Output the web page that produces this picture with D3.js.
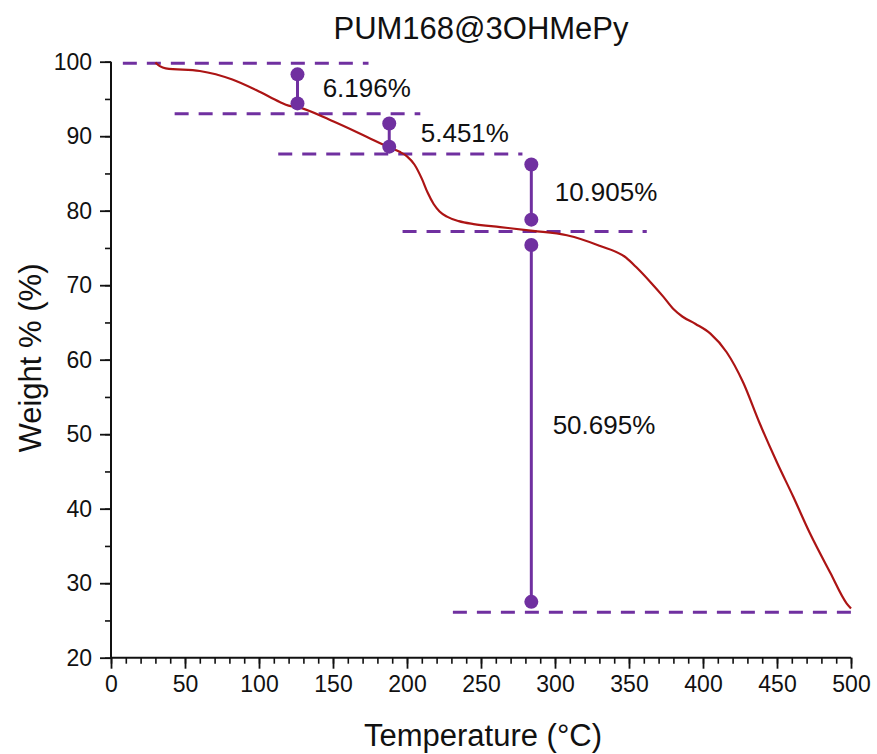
<!DOCTYPE html>
<html><head><meta charset="utf-8">
<script src="https://cdn.jsdelivr.net/npm/d3@7"></script>
<style>body{margin:0;background:#fff}svg{display:block}text{font-family:"Liberation Sans",Arial,sans-serif;fill:#111}</style>
</head><body><svg id="c" width="877" height="754"></svg>
<script>
// TGA curve (temperature °C, weight %)
const temps   = [30, 33, 37, 60, 82, 100, 114, 120, 126, 150, 173, 188, 195, 200, 205, 210, 214, 218, 222, 227, 235, 245, 263, 285, 308, 330, 348, 355, 365, 373, 380, 386, 395, 405, 416, 427, 438, 450, 461, 472, 486, 497, 500];
const weights = [99.9, 99.4, 99.1, 98.75, 97.6, 96.0, 94.6, 94.1, 93.9, 92.0, 89.9, 88.5, 87.9, 87.3, 86.2, 84.3, 82.4, 80.9, 79.9, 79.2, 78.6, 78.2, 77.8, 77.3, 76.7, 75.3, 73.7, 72.4, 70.3, 68.5, 66.8, 65.8, 64.8, 63.5, 61.0, 57.0, 51.6, 46.2, 41.6, 36.8, 31.4, 27.3, 26.6];
// dashed reference levels
const refLevel = [99.8, 93.0, 87.6, 77.2, 26.1];
const refFrom  = [8, 43, 113, 197, 231];
const refTo    = [174, 209, 278, 362, 500];
// dumbbell markers of weight loss steps
const stepT      = [126, 188, 284, 284];
const stepTop    = [98.3, 91.7, 86.2, 75.4];
const stepBottom = [94.4, 88.6, 78.8, 27.5];
const stepLabel  = ["6.196%", "5.451%", "10.905%", "50.695%"];
const labelT     = [143, 209.3, 299.8, 298.4];
const labelW     = [96.5, 90.5, 82.55, 51.3];
// ticks
const xTicks = [0, 50, 100, 150, 200, 250, 300, 350, 400, 450, 500];
const yTicks = [20, 30, 40, 50, 60, 70, 80, 90, 100];

const svg = d3.select("#c");
const x = d3.scaleLinear().domain([0, 500]).range([111, 851]);
const y = d3.scaleLinear().domain([20, 100]).range([657.7, 61.7]);
const purple = "#7030a0", red = "#ac1414";

// axes
const xMinor = d3.range(0, 501, 10);
const yMinor = d3.range(20, 101, 5);
const gx = svg.append("g").attr("transform", "translate(0,657.7)");
gx.call(d3.axisBottom(x).tickValues(xMinor).tickSize(6).tickFormat(""));
gx.selectAll(".tick line").attr("stroke-width", 1.6).attr("stroke", "#111");
gx.select(".domain").remove();
const gx2 = svg.append("g").attr("transform", "translate(0,657.7)");
gx2.call(d3.axisBottom(x).tickValues(xTicks).tickSize(11).tickPadding(7).tickFormat(d3.format("d")));
gx2.selectAll(".tick line").attr("stroke-width", 1.8).attr("stroke", "#111");
gx2.selectAll(".tick text").attr("font-size", 23).attr("fill", "#111");
gx2.select(".domain").attr("stroke", "#111").attr("stroke-width", 2).attr("d", `M${x(0)},0H${x(500)}`);

const gy = svg.append("g").attr("transform", "translate(111,0)");
gy.call(d3.axisLeft(y).tickValues(yMinor).tickSize(6).tickFormat(""));
gy.selectAll(".tick line").attr("stroke-width", 1.6).attr("stroke", "#111");
gy.select(".domain").remove();
const gy2 = svg.append("g").attr("transform", "translate(111,0)");
gy2.call(d3.axisLeft(y).tickValues(yTicks).tickSize(11).tickPadding(8).tickFormat(d3.format("d")));
gy2.selectAll(".tick line").attr("stroke-width", 1.8).attr("stroke", "#111");
gy2.selectAll(".tick text").attr("font-size", 23).attr("fill", "#111");
gy2.select(".domain").attr("stroke", "#111").attr("stroke-width", 2).attr("d", `M0,${y(20)}V${y(100)}`);

// dashed reference lines
svg.append("g").selectAll("line").data(refLevel).join("line")
  .attr("x1", (d, i) => x(refFrom[i])).attr("x2", (d, i) => x(refTo[i]))
  .attr("y1", d => y(d)).attr("y2", d => y(d))
  .attr("stroke", purple).attr("stroke-width", 3).attr("stroke-dasharray", "14,10");

// curve
const pts = temps.map((t, i) => [t, weights[i]]);
svg.append("path").datum(pts)
  .attr("d", d3.line().x(d => x(d[0])).y(d => y(d[1])).curve(d3.curveMonotoneX))
  .attr("fill", "none").attr("stroke", red).attr("stroke-width", 2.2);

// dumbbells
const gd = svg.append("g");
stepT.forEach((t, i) => {
  gd.append("line").attr("x1", x(t)).attr("x2", x(t)).attr("y1", y(stepTop[i])).attr("y2", y(stepBottom[i]))
    .attr("stroke", purple).attr("stroke-width", 3);
  [stepTop[i], stepBottom[i]].forEach(w => gd.append("circle").attr("cx", x(t)).attr("cy", y(w)).attr("r", 7).attr("fill", purple));
});
svg.append("g").selectAll("text").data(stepLabel).join("text")
  .attr("x", (d, i) => x(labelT[i])).attr("y", (d, i) => y(labelW[i]))
  .attr("dy", "0.35em").attr("font-size", 26).text(d => d);

// titles
svg.append("text").attr("x", 481).attr("y", 39).attr("text-anchor", "middle").attr("font-size", 31).text("PUM168@3OHMePy");
svg.append("text").attr("x", 483).attr("y", 746).attr("text-anchor", "middle").attr("font-size", 31).text("Temperature (°C)");
svg.append("text").attr("transform", "translate(41,358) rotate(-90)").attr("text-anchor", "middle").attr("font-size", 31).text("Weight % (%)");
</script></body></html>
